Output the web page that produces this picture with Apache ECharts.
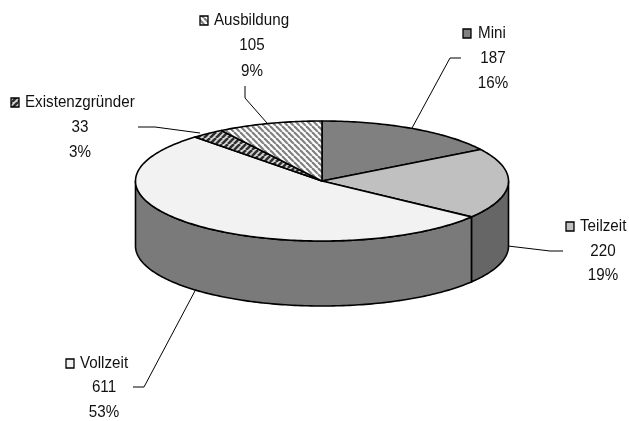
<!DOCTYPE html>
<html><head><meta charset="utf-8">
<style>html,body{margin:0;padding:0;background:#fff}#c{width:629px;height:421px}</style>
<script src="https://cdn.jsdelivr.net/npm/echarts@6/dist/echarts.min.js"></script>
</head><body><div id="c"></div>
<script>
// data, clockwise from 12 o'clock
var categories = ['Mini','Teilzeit','Vollzeit','Existenzgründer','Ausbildung'];
var values = [187,220,611,33,105];
var percents = ['16%','19%','53%','3%','9%'];

// styling
function stripes(bg, fg, size, width, dir){
  var c=document.createElement('canvas');c.width=c.height=size;
  var g=c.getContext('2d');g.fillStyle=bg;g.fillRect(0,0,size,size);
  g.strokeStyle=fg;g.lineWidth=width;
  for(var k=-1;k<=1;k++){g.beginPath();
    if(dir>0){g.moveTo(k*size,size);g.lineTo(k*size+size,0);}
    else{g.moveTo(k*size,0);g.lineTo(k*size+size,size);}
    g.stroke();}
  return {image:c,repeat:'repeat'};
}
var topFill = ['#808080','#c0c0c0','#f2f2f2',stripes('#d8d8d8','#303030',6,2.6,1),stripes('#ffffff','#808080',6,2.2,-1)];
var wallFill = ['#666666','#666666','#7a7a7a','#7a7a7a','#7a7a7a'];
var CX=322,CY=181,RX=186.5,RY=60,DEPTH=65;
var labelPos = [
  {key:[463,29],text:[478,33],cx:493,y:[33,58,83],line:[[461,58],[450,58],[412,128]]},
  {key:[566,222],text:[580,226],cx:603,y:[226,251,275],line:[[563,251],[550,251],[508,246]]},
  {key:[66,359],text:[80,363],cx:104,y:[363,387,412],line:[[133,387],[144,387],[196,289]]},
  {key:[11,98],text:[25,102],cx:80,y:[102,127,152],line:[[138,127],[155,127],[200,133]]},
  {key:[200,16],text:[214,20],cx:252,y:[20,45,71],line:[[245,86],[245,98],[267,123]]}
];
var FONT='16.5px "Liberation Sans"';
var total=values.reduce(function(a,b){return a+b;},0);
function pt(t,dy){var r=t*Math.PI/180;return [CX+RX*Math.sin(r),CY-RY*Math.cos(r)+(dy||0)];}
function arc(a,b,dy){var p=[],n=Math.max(2,Math.ceil(Math.abs(b-a)));for(var i=0;i<=n;i++)p.push(pt(a+(b-a)*i/n,dy));return p;}
function label(s,x,y,al){return {type:'text',x:x,y:y,scaleX:0.92,style:{text:s,x:0,y:0,align:al,verticalAlign:'middle',font:FONT,fill:'#111'}};}

var option={animation:false,backgroundColor:'#fff',
 series:[{type:'custom',coordinateSystem:'none',silent:true,clip:false,
  data:values.map(function(v,i){return [v,i];}),
  renderItem:function(params,api){
    var i=api.value(1),before=0;
    for(var k=0;k<i;k++)before+=values[k];
    var t0=before/total*360,t1=(before+api.value(0))/total*360;
    var ch=[];
    var a=Math.max(t0,90),b=Math.min(t1,270);
    if(b>a){
      ch.push({type:'polygon',shape:{points:arc(a,b,0).concat(arc(b,a,DEPTH))},
        style:{fill:wallFill[i],stroke:'#000',lineWidth:1.6,lineJoin:'round'}});
    }
    ch.push({type:'polygon',shape:{points:[[CX,CY]].concat(arc(t0,t1,0))},
      style:{fill:topFill[i],stroke:'#000',lineWidth:1.6,lineJoin:'round'}});
    return {type:'group',children:ch};
  }},
  {type:'custom',coordinateSystem:'none',silent:true,clip:false,
  data:values.map(function(v,i){return [v,i];}),
  renderItem:function(params,api){
    var i=api.value(1),L=labelPos[i];
    return {type:'group',children:[
      {type:'polyline',shape:{points:L.line},style:{fill:null,stroke:'#000',lineWidth:1}},
      {type:'rect',shape:{x:L.key[0],y:L.key[1],width:8,height:9},style:{fill:topFill[i],stroke:'#000',lineWidth:1.3}},
      label(categories[i],L.text[0],L.text[1],'left'),
      label(String(api.value(0)),L.cx,L.y[1],'center'),
      label(percents[i],L.cx,L.y[2],'center')
    ]};
  }}]
};
echarts.init(document.getElementById('c')).setOption(option);
</script></body></html>
